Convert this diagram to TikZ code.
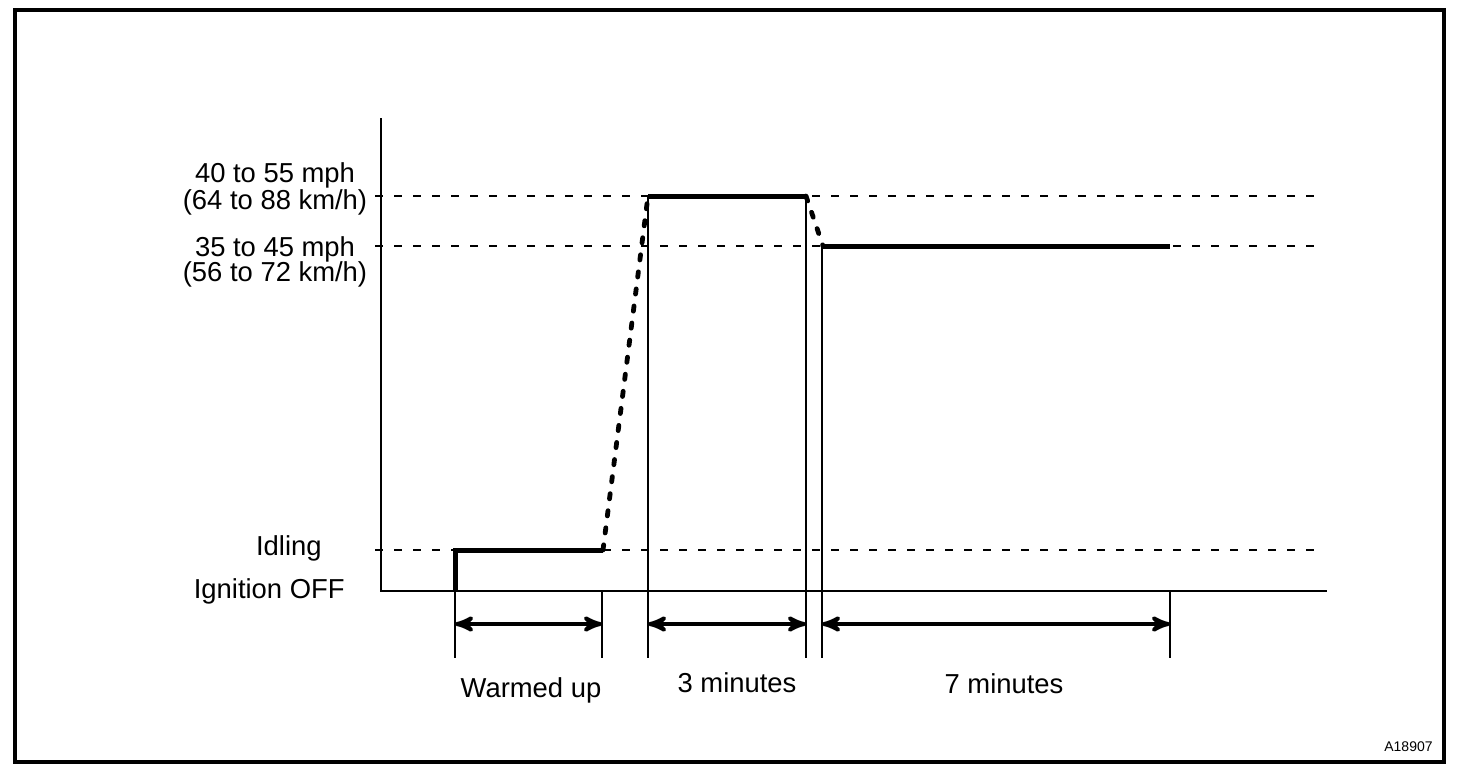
\documentclass[tikz,border=0pt]{standalone}
\usepackage{fontspec}
\setmainfont{Liberation Sans}
\usetikzlibrary{arrows,positioning}

\begin{document}
\begin{tikzpicture}[x=0.5pt,y=-0.5pt,>=stealth',
    lbl/.style={inner sep=0pt,font=\fontsize{13.7}{16}\selectfont},
    guide/.style={line width=1pt,dash pattern=on 4pt off 5.5pt},
    speed/.style={line width=2.5pt},
    ramp/.style={line width=2.4pt,line cap=round,dash pattern=on 2.6pt off 6pt},
    span/.style={<->,line width=2pt},
    tick/.style={line width=1pt}]
  \useasboundingbox (0,0) rectangle (1472,772);
  \draw[line width=2pt] (15,10) rectangle (1444,762);

  % axes
  \coordinate (top)    at (381,118);
  \coordinate (origin) at (381,591);
  \coordinate (xend)   at (1327,591);
  \draw[line width=1pt] (top) -- (origin) -- (xend);

  % speed levels
  \coordinate (hiL) at (375,196);  \coordinate (hiR) at (1322,196);
  \coordinate (miL) at (375,246);  \coordinate (miR) at (1322,246);
  \coordinate (idL) at (375,550);  \coordinate (idR) at (1322,550);
  \draw[guide] (hiL) -- (hiR)
               (miL) -- (miR)
               (idL) -- (idR);

  % drive pattern
  \coordinate (off)   at (455,591);
  \coordinate (idle)  at (455,550);
  \coordinate (warm)  at (603,550);
  \coordinate (hiA)   at (648,196);
  \coordinate (hiB)   at (806,196);
  \coordinate (miA)   at (823,246);
  \coordinate (miB)   at (1170,246);
  \draw[speed] (off) -- (idle) -- (warm);
  \draw[ramp]  (warm) -- (hiA);
  \draw[speed] (hiA) -- (hiB);
  \draw[ramp]  (hiB) -- (miA);
  \draw[speed] (miA) -- (miB);

  % extension lines and spans
  \foreach \x/\y in {455/591,602/591,648/196,806/196,822/246,1170/591}
    \draw[tick] (\x,\y) -- (\x,658);
  \draw[span] (455,624) -- (602,624);
  \draw[span] (648,624) -- (806,624);
  \draw[span] (822,624) -- (1170,624);

  % labels
  \node[lbl,anchor=base] (hi1) at (275,182) {40 to 55 mph};
  \node[lbl,anchor=base] (hi2) at (275,209) {(64 to 88 km/h)};
  \node[lbl,anchor=base] (mi1) at (275,256) {35 to 45 mph};
  \node[lbl,anchor=base] (mi2) at (275,281) {(56 to 72 km/h)};
  \node[lbl,anchor=base east] (idling) at (322,555) {Idling};
  \node[lbl,anchor=base east] (ign)    at (345,598) {Ignition OFF};
  \node[lbl,anchor=base] (warmup) at (531,697) {Warmed up};
  \node[lbl,anchor=base] (three)  at (737,692) {3 minutes};
  \node[lbl,anchor=base] (seven)  at (1004,693) {7 minutes};
  \node[inner sep=0pt,anchor=base east,font=\fontsize{7}{8}\selectfont]
    (code) at (1433,751) {A18907};
\end{tikzpicture}
\end{document}
